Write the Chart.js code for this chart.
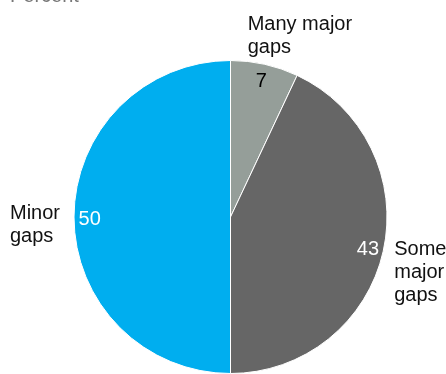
<!DOCTYPE html>
<html>
<head>
<meta charset="utf-8">
<script src="https://cdn.jsdelivr.net/npm/chart.js@4.4.0/dist/chart.umd.min.js"></script>
<style>
  html, body { margin: 0; padding: 0; background: #fff; }
  #wrap { width: 446px; height: 374px; position: relative; }
</style>
</head>
<body>
<div id="wrap"><canvas id="gaps"></canvas></div>
<script>
const labels = [['Many major', 'gaps'], ['Some', 'major', 'gaps'], ['Minor', 'gaps']]
const values = [7, 43, 50]
const colors = ['#959e99', '#666666', '#00aeef']
const valueColors = ['#000000', '#ffffff', '#ffffff']
const axisTitle = 'Percent'

const FONT = '20px "Liberation Sans", Arial, sans-serif'

// outer label placement relative to the arc mid point on the rim
const labelOffsets = [
    { dx: -17, dy: -49, align: 'left' },
    { dx: 11, dy: -11, align: 'left' },
    { dx: -64, dy: -13, align: 'left' }
]

const pieLabels = {
    id: 'pieLabels',
    afterDatasetsDraw(chart) {
        const ctx = chart.ctx
        const arcs = chart.getDatasetMeta(0).data
        ctx.save()
        ctx.font = FONT
        ctx.textBaseline = 'alphabetic'

        ctx.fillStyle = '#777777'
        ctx.textAlign = 'left'
        ctx.fillText(axisTitle, 10, 2)

        arcs.forEach(function (arc, i) {
            const p = arc.getProps(['x', 'y', 'startAngle', 'endAngle', 'outerRadius'], true)
            const mid = (p.startAngle + p.endAngle) / 2
            // value inside the slice
            const r = p.outerRadius * 0.9
            ctx.fillStyle = valueColors[i]
            ctx.textAlign = 'center'
            ctx.textBaseline = 'middle'
            ctx.fillText(String(values[i]), p.x + Math.cos(mid) * r, p.y + Math.sin(mid) * r + 2)

            // category label outside
            const ox = p.x + Math.cos(mid) * p.outerRadius
            const oy = p.y + Math.sin(mid) * p.outerRadius
            const o = labelOffsets[i]
            ctx.fillStyle = '#111111'
            ctx.textAlign = o.align
            ctx.textBaseline = 'alphabetic'
            labels[i].forEach(function (line, k) {
                ctx.fillText(line, ox + o.dx, oy + o.dy + k * 23 + 15)
            })
        })
        ctx.restore()
    }
}

new Chart(document.getElementById('gaps'), {
    type: 'pie',
    data: {
        labels: labels.map(l => l.join(' ')),
        datasets: [{
            data: values,
            backgroundColor: colors,
            borderColor: '#ffffff',
            borderWidth: 1
        }]
    },
    options: {
        responsive: true,
        maintainAspectRatio: false,
        animation: false,
        layout: { padding: { top: 60, bottom: 0, left: 73, right: 58 } },
        plugins: {
            legend: { display: false },
            tooltip: { enabled: false },
            title: { display: false }
        }
    },
    plugins: [pieLabels]
})
</script>
</body>
</html>
